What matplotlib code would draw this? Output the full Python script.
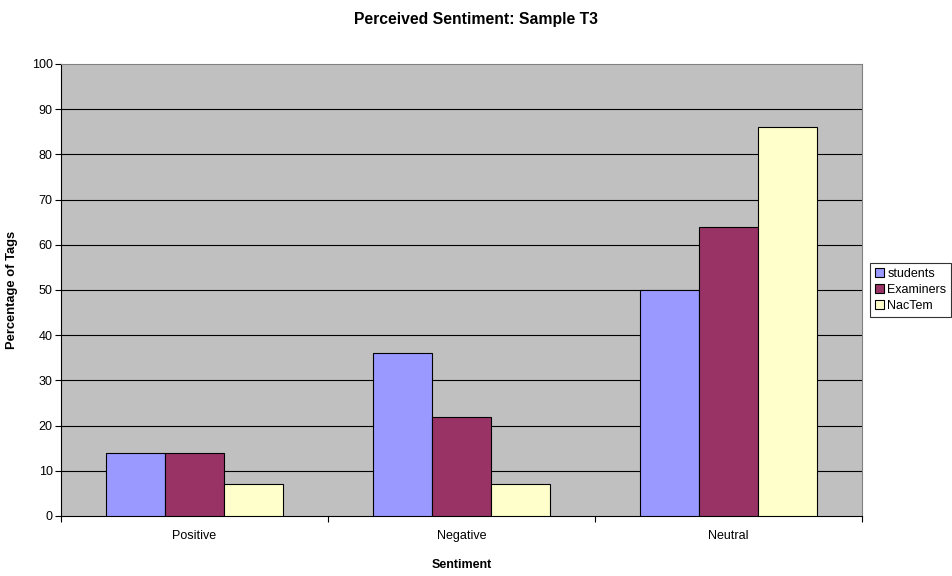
import matplotlib
matplotlib.use("Agg")
import matplotlib.pyplot as plt
import numpy as np

categories = ["Positive", "Negative", "Neutral"]
series = ["students", "Examiners", "NacTem"]
students = [14, 36, 50]
examiners = [14, 22, 64]
nactem = [7, 7, 86]
colors = ["#9999FF", "#993366", "#FFFFCC"]

plt.rcParams['font.family'] = ['Liberation Sans', 'DejaVu Sans']

fig = plt.figure(figsize=(9.52, 5.76), dpi=100)
ax = fig.add_axes([0.0641, 0.1042, 0.8414, 0.7847])
ax.set_facecolor("#C0C0C0")

x = np.arange(len(categories))
w = 0.222
for i, (vals, name, c) in enumerate(zip([students, examiners, nactem], series, colors)):
    ax.bar(x + (i - 1) * w, vals, w, color=c, edgecolor="black", linewidth=0.8,
           label=name, zorder=3)

ax.set_ylim(0, 100)
ax.set_xlim(-0.5, 2.5)
ax.set_yticks(range(0, 101, 10))
# gridlines, skip the top one (top border is grey)
for yv in range(10, 100, 10):
    ax.axhline(yv, color="black", linewidth=0.8, zorder=1)

ax.set_xticks([-0.5, 0.5, 1.5, 2.5])
ax.set_xticklabels([])
ax.set_xticks(x, minor=True)
ax.set_xticklabels(categories, minor=True)
ax.tick_params(axis="x", which="minor", length=0, pad=10, labelsize=9)
ax.tick_params(axis="x", which="major", length=4, direction="out")
ax.tick_params(axis="y", labelsize=9, length=4, direction="out", pad=2)

ax.spines["top"].set_color("#808080")
ax.spines["right"].set_color("#808080")
ax.spines["left"].set_color("black")
ax.spines["bottom"].set_color("black")

ax.set_xlabel("Sentiment", fontsize=9, fontweight="bold", labelpad=12)
ax.set_ylabel("Percentage of Tags", fontsize=9.3, fontweight="bold", labelpad=10)
fig.suptitle("Perceived Sentiment: Sample T3", fontsize=11.3, fontweight="bold", y=0.98)

leg = ax.legend(loc="center left", bbox_to_anchor=(1.005, 0.5), fontsize=9,
                frameon=True, fancybox=False, edgecolor="black",
                handlelength=0.7, handleheight=0.7, handletextpad=0.3,
                borderpad=0.4, labelspacing=0.3, borderaxespad=0.3)
leg.get_frame().set_linewidth(0.8)

plt.savefig("out.png", dpi=100)
